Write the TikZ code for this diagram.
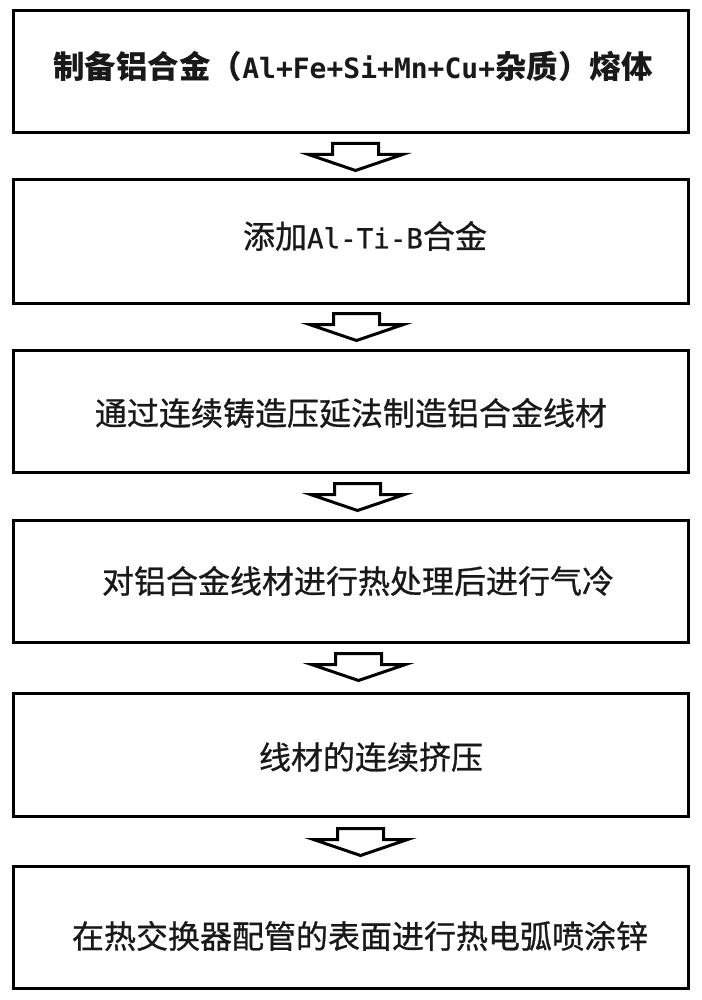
\documentclass[tikz,border=0pt]{standalone}
\usepackage{fontspec}
\newfontfamily\cjk{Noto Sans CJK SC}[FakeBold=0.8]
\newfontfamily\cjkb{Noto Sans CJK SC}[Scale=1]
\newfontfamily\asc{DejaVu Sans Mono}[FakeBold=0.8]
\newfontfamily\ascb{DejaVu Sans Mono}
\usetikzlibrary{calc}
\tikzset{
  stepbox/.style={draw=black, line width=3pt, minimum width=675pt, inner sep=0pt, fill=white},
  steptext/.style={inner sep=0pt, font=\cjk\fontsize{32}{38}\selectfont, text=black!90},
  arrowline/.style={draw=black, line width=3pt, line join=miter, fill=white},
  darrow/.pic={\path[arrowline] (-23,0) -- (23,0) -- (23,11) -- (47,11) -- (0,27) -- (-47,11) -- (-23,11) -- cycle;}
}
\newcommand{\asctxt}[1]{{\asc\fontsize{27.5}{38}\selectfont #1}}
\newcommand{\asctxtb}[1]{{\ascb\bfseries\fontsize{28}{38}\selectfont #1}}
\begin{document}
\begin{tikzpicture}[x=1pt,y=-1pt]
\useasboundingbox[fill=white] (0,0) rectangle (701,1000);
% boxes
\node[stepbox, minimum height=122pt] (b1) at (350.5,72) {};
\node[stepbox, minimum height=123pt] (b2) at (350.5,241.5) {};
\node[stepbox, minimum height=122pt] (b3) at (350.5,411) {};
\node[stepbox, minimum height=122pt] (b4) at (350.5,581) {};
\node[stepbox, minimum height=123pt] (b5) at (350.5,754.5) {};
\node[stepbox, minimum height=122pt] (b6) at (350.5,927) {};
% texts
\node[steptext, font=\cjkb\bfseries\fontsize{31.5}{38}\selectfont] (t1) at (353,66) {制备铝合金（\asctxtb{Al+Fe+Si+Mn+Cu+}杂质）熔体};
\node[steptext] (t2) at (365,236) {添加\asctxt{Al-Ti-B}合金};
\node[steptext] (t3) at (351,413) {通过连续铸造压延法制造铝合金线材};
\node[steptext] (t4) at (358,581) {对铝合金线材进行热处理后进行气冷};
\node[steptext] (t5) at (371,757) {线材的连续挤压};
\node[steptext] (t6) at (360,936) {在热交换器配管的表面进行热电弧喷涂锌};
% block arrows
\coordinate (a1) at ($(b1.south)+(5,9)$);
\coordinate (a2) at ($(b2.south)+(6,9)$);
\coordinate (a3) at ($(b3.south)+(7,10)$);
\coordinate (a4) at ($(b4.south)+(8,10)$);
\coordinate (a5) at ($(b5.south)+(10,11)$);
\foreach \a in {a1,a2,a3,a4,a5} { \pic at (\a) {darrow}; }
\end{tikzpicture}
\end{document}
